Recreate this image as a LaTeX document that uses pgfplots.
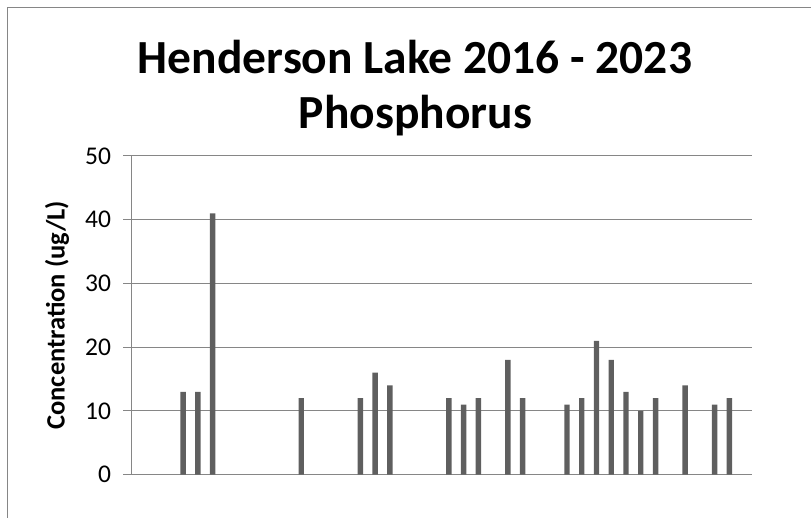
\documentclass[border=0pt]{standalone}
\usepackage{fontspec}
\setmainfont{Carlito}
\usepackage{pgfplots}
\pgfplotsset{compat=1.18}
\definecolor{gridgray}{HTML}{868686}
\definecolor{bargray}{HTML}{5F5F5F}
\begin{document}
\begin{tikzpicture}[x=1pt,y=1pt]
\useasboundingbox (0,0) rectangle (811,518);
\draw[gridgray, line width=1.2pt] (7.3,0) -- (7.3,510.7) -- (811,510.7);
\begin{axis}[
  at={(131.5pt,43.3pt)}, anchor=south west,
  scale only axis, width=620pt, height=318.7pt,
  xmin=-3.5, xmax=38.5, ymin=0, ymax=50,
  ytick={0,10,...,50}, xtick=\empty,
  ymajorgrids, grid style={gridgray, line width=1pt},
  axis x line*=bottom, axis y line*=left,
  axis line style={gridgray, line width=1pt},
  tick align=outside, major tick length=8pt,
  y tick style={gridgray, line width=1pt},
  /pgf/number format/assume math mode=true,
  yticklabel style={font=\fontsize{25.5}{30}\selectfont, xshift=-9pt},
  ylabel={Concentration (ug/L)},
  ylabel style={at={(axis description cs:-0.1202,0.5)}, anchor=center, font=\bfseries\fontsize{26.5}{31}\selectfont},
  clip=false,
]
\addplot[ybar, bar width=5.4pt, fill=bargray, draw=none] coordinates {
  (0,13) (1,13) (2,41) (8,12) (12,12) (13,16) (14,14)
  (18,12) (19,11) (20,12) (22,18) (23,12)
  (26,11) (27,12) (28,21) (29,18) (30,13) (31,10) (32,12)
  (34,14) (36,11) (37,12)
};
\end{axis}
\node[font=\bfseries\fontsize{47.5}{55}\selectfont, anchor=base] at (415,444) {Henderson Lake 2016 - 2023};
\node[font=\bfseries\fontsize{47.5}{55}\selectfont, anchor=base] at (415.5,389) {Phosphorus};
\end{tikzpicture}
\end{document}
